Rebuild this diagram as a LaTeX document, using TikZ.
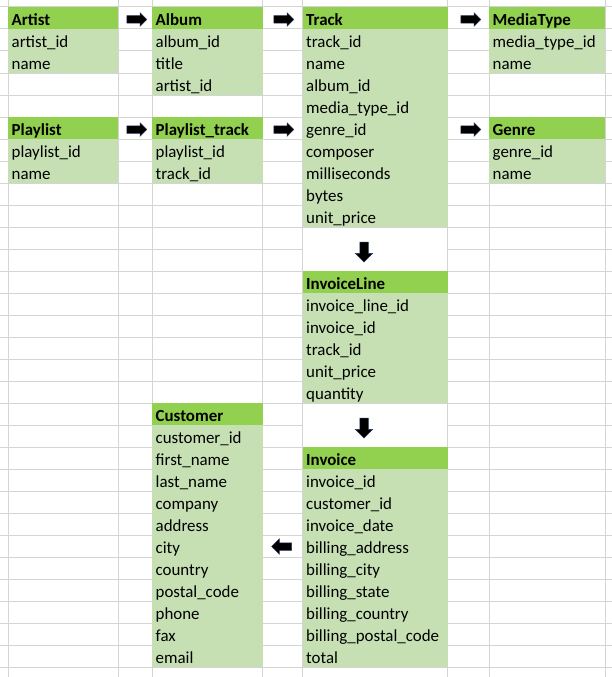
\documentclass[tikz,border=0pt]{standalone}
\usepackage{fontspec}
\setmainfont{Carlito}
\usetikzlibrary{shapes.arrows}
\definecolor{headgreen}{HTML}{92D050}
\definecolor{fieldgreen}{HTML}{C6E0B4}
\definecolor{gridgray}{HTML}{D4D4D4}
\definecolor{arrowedge}{HTML}{2A3560}

\begin{document}
\begin{tikzpicture}[x=1pt, y=-1pt,
        cell/.style={anchor=north west, minimum height=22pt, inner xsep=3.5pt, inner ysep=0pt,
            text height=18pt, text depth=4pt, align=left, font=\fontsize{16.9}{20}\selectfont},
        hdr/.style={cell, fill=headgreen, font=\fontsize{16.9}{20}\selectfont\bfseries},
        fld/.style={cell, fill=fieldgreen},
        colA/.style={text width=103pt},
        colC/.style={text width=103.5pt},
        colE/.style={text width=138pt},
        colG/.style={text width=109pt},
        gridline/.style={draw=gridgray, line width=1pt},
        merged/.style={anchor=north west, fill=white, inner sep=0pt, minimum width=144pt, minimum height=43pt},
        blockarrow/.style={single arrow, fill=black, draw=arrowedge, line width=0.5pt,
            minimum height=20pt, single arrow head indent=0pt}]

        \path[use as bounding box, fill=white] (0,0) rectangle (612,677);

        % grid of the sheet
        \foreach \y in {7,29,...,667}
            \draw[gridline] (0,\y) -- (612,\y);
        \foreach \x in {8,118,152,262.5,302.5,447.5,489,605}
            \draw[gridline] (\x,0) -- (\x,677);

        % Artist
        \node[hdr, colA] (artist) at (8,7) {Artist};
        \foreach \f [count=\i] in {artist\_id, name}
            \node[fld, colA] (artist-\i) at (8,7+22*\i) {\f};

        % Album
        \node[hdr, colC] (album) at (152,7) {Album};
        \foreach \f [count=\i] in {album\_id, title, artist\_id}
            \node[fld, colC] (album-\i) at (152,7+22*\i) {\f};

        % Track
        \node[hdr, colE] (track) at (302.5,7) {Track};
        \foreach \f [count=\i] in {track\_id, name, album\_id, media\_type\_id, genre\_id, composer, milliseconds, bytes, unit\_price}
            \node[fld, colE] (track-\i) at (302.5,7+22*\i) {\f};

        % MediaType
        \node[hdr, colG] (mediatype) at (489,7) {MediaType};
        \foreach \f [count=\i] in {media\_type\_id, name}
            \node[fld, colG] (mediatype-\i) at (489,7+22*\i) {\f};

        % Playlist
        \node[hdr, colA] (playlist) at (8,117) {Playlist};
        \foreach \f [count=\i] in {playlist\_id, name}
            \node[fld, colA] (playlist-\i) at (8,117+22*\i) {\f};

        % Playlist_track
        \node[hdr, colC] (playlisttrack) at (152,117) {Playlist\_track};
        \foreach \f [count=\i] in {playlist\_id, track\_id}
            \node[fld, colC] (playlisttrack-\i) at (152,117+22*\i) {\f};

        % Genre
        \node[hdr, colG] (genre) at (489,117) {Genre};
        \foreach \f [count=\i] in {genre\_id, name}
            \node[fld, colG] (genre-\i) at (489,117+22*\i) {\f};

        % InvoiceLine
        \node[hdr, colE] (invoiceline) at (302.5,271) {InvoiceLine};
        \foreach \f [count=\i] in {invoice\_line\_id, invoice\_id, track\_id, unit\_price, quantity}
            \node[fld, colE] (invoiceline-\i) at (302.5,271+22*\i) {\f};

        % Customer
        \node[hdr, colC] (customer) at (152,403) {Customer};
        \foreach \f [count=\i] in {customer\_id, first\_name, last\_name, company, address, city, country, postal\_code, phone, fax, email}
            \node[fld, colC] (customer-\i) at (152,403+22*\i) {\f};

        % Invoice
        \node[hdr, colE] (invoice) at (302.5,447) {Invoice};
        \foreach \f [count=\i] in {invoice\_id, customer\_id, invoice\_date, billing\_address, billing\_city, billing\_state, billing\_country, billing\_postal\_code, total}
            \node[fld, colE] (invoice-\i) at (302.5,447+22*\i) {\f};

        % merged cells holding the down arrows
        \node[merged] (gap1) at (303,227.5) {};
        \node[merged] (gap2) at (303,403.5) {};

        % arrows
        \node[blockarrow, inner sep=3.5pt, single arrow head extend=3pt] (a1) at (135,19.5) {};
        \node[blockarrow, inner sep=3.5pt, single arrow head extend=3pt] (a2) at (282,19.5) {};
        \node[blockarrow, inner sep=3.5pt, single arrow head extend=3pt] (a3) at (469,19.5) {};
        \node[blockarrow, inner sep=3.5pt, single arrow head extend=3pt] (a4) at (135,129.5) {};
        \node[blockarrow, inner sep=3.5pt, single arrow head extend=3pt] (a5) at (282,129.5) {};
        \node[blockarrow, inner sep=3.5pt, single arrow head extend=3pt] (a6) at (469,129.5) {};
        \node[blockarrow, inner sep=4pt, single arrow head extend=4.5pt, shape border rotate=270] (d1) at (364,250) {};
        \node[blockarrow, inner sep=4pt, single arrow head extend=4.5pt, shape border rotate=270] (d2) at (364,426) {};
        \node[blockarrow, inner sep=3.5pt, single arrow head extend=4pt, shape border rotate=180] (l1) at (283.5,546.5) {};
    \end{tikzpicture}
\end{document}
